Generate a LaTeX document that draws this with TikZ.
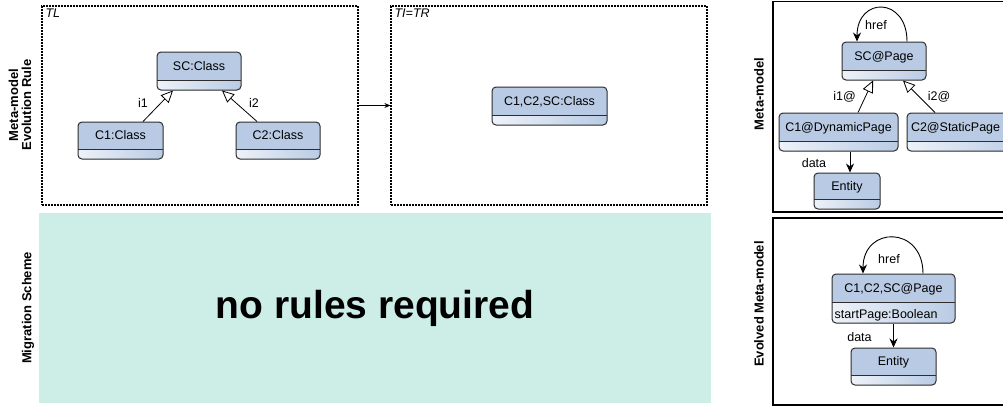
\documentclass[tikz,border=0pt]{standalone}
\usepackage{fontspec}
\setmainfont{Liberation Sans}
\usetikzlibrary{arrows.meta}
\definecolor{clsblue}{RGB}{185,203,228}
\definecolor{clslight}{RGB}{238,242,249}
\definecolor{clsedge}{RGB}{45,45,45}
\definecolor{schemegreen}{RGB}{204,238,231}
\begin{document}
\begin{tikzpicture}[x=1pt,y=-1pt,
  every node/.style={font=\fontsize{12.5}{14}\selectfont},
  cls/.style={draw=clsedge,line width=1pt,rounded corners=4pt,fill=clsblue,inner sep=2pt,text height=8.5pt,text depth=#1,
    path picture={\shade[sharp corners,left color=clslight,right color=clsblue] (path picture bounding box.south west) rectangle ([yshift=#1]path picture bounding box.south east);
      \draw[sharp corners,clsedge,line width=1pt] ([yshift=#1]path picture bounding box.south west) -- ([yshift=#1]path picture bounding box.south east);}},
  cls/.default=10pt,
  inh/.style={-{Triangle[fill=white,length=12pt,width=11pt]},line width=0.8pt},
  assoc/.style={-{Stealth[length=9pt,width=8pt]},line width=0.9pt},
  frame/.style={draw,line width=1.2pt,dash pattern=on 2pt off 1pt,inner sep=0pt},
  panel/.style={draw,line width=1.1pt,inner sep=0pt},
  side/.style={rotate=90,align=center,font=\bfseries\fontsize{13}{13}\selectfont},
  tag/.style={anchor=north west,inner sep=0pt,font=\itshape\fontsize{12.5}{14}\selectfont},
  lbl/.style={inner sep=1pt}]
  \clip (0,0) rectangle (1003,410);
  \fill[white] (0,0) rectangle (1003,410);
  % evolution rule
  \node[frame,minimum width=316pt,minimum height=199pt] (tl) at (200,105.5) {};
  \node[frame,minimum width=316pt,minimum height=199pt] (tr) at (549,105.5) {};
  \node[tag] (tlname) at ([xshift=4pt,yshift=-3pt]tl.north west) {TL};
  \node[tag] (trname) at ([xshift=4pt,yshift=-3pt]tr.north west) {TI=TR};
  \draw[-{Stealth[length=6pt,width=5pt]},line width=0.8pt] (tl) -- (tr);
  \node[cls,minimum width=84pt,minimum height=38pt] (sc) at (199,71) {SC:Class};
  \node[cls,minimum width=85pt,minimum height=37pt] (c1) at (120.5,140.5) {C1:Class};
  \node[cls,minimum width=84pt,minimum height=37pt] (c2) at (278,140.5) {C2:Class};
  \draw[inh] ([xshift=22.5pt]c1.north) -- ([xshift=-26pt]sc.south);
  \draw[inh] ([xshift=-21pt]c2.north) -- ([xshift=23pt]sc.south);
  \node[lbl] (i1) at (143,102.5) {i1};
  \node[lbl] (i2) at (254,102.5) {i2};
  \node[cls,minimum width=115pt,minimum height=38pt] (merged) at (549.5,106) {C1,C2,SC:Class};
  % migration scheme
  \node[fill=schemegreen,minimum width=672pt,minimum height=190pt,font=\bfseries\fontsize{39}{44}\selectfont] (scheme) at (375,308) {no rules required};
  \node[side] (rulelbl) at (20,105) {Meta-model\\Evolution Rule};
  \node[side] (schemelbl) at (28,308) {Migration Scheme};
  % meta-models
  \node[panel,minimum width=240pt,minimum height=210.5pt] (mm) at (893,106.75) {};
  \node[panel,minimum width=240pt,minimum height=187pt] (emm) at (893,311.5) {};
  \node[side] (mmlbl) at (759,94) {Meta-model};
  \node[side] (emmlbl) at (759,304) {Evolved Meta-model};
  \node[cls,minimum width=84pt,minimum height=38pt] (scpage) at (884,61) {SC@Page};
  \node[cls,minimum width=119pt,minimum height=38pt] (dynpage) at (838.5,132) {C1@DynamicPage};
  \node[cls,minimum width=119pt,minimum height=38pt,text width=111pt,align=left] (statpage) at (966.5,132) {C2@StaticPage};
  \node[cls,minimum width=66pt,minimum height=36pt] (entity) at (847,191) {Entity};
  \draw[assoc] ([xshift=23pt]scpage.north) .. controls +(0,-45) and +(0,-45) .. ([xshift=-27pt]scpage.north);
  \node[lbl] (hrefa) at (876,25) {href};
  \draw[inh] ([xshift=19.5pt]dynpage.north) -- ([xshift=-11pt]scpage.south);
  \draw[inh] ([xshift=-31.5pt]statpage.north) -- ([xshift=19pt]scpage.south);
  \node[lbl] (i1at) at (844.5,97) {i1@};
  \node[lbl] (i2at) at (939,97) {i2@};
  \draw[assoc] ([xshift=11.5pt]dynpage.south) -- ([xshift=3pt]entity.north);
  \node[lbl] (dataa) at (814,163) {data};
  \node[cls=21pt,minimum width=123pt,minimum height=49pt] (evpage) at (893.5,298.5) {C1,C2,SC@Page};
  \node[anchor=base west,inner sep=0pt] (pgattr) at ([xshift=3pt,yshift=5.5pt]evpage.south west) {startPage:Boolean};
  \node[cls,minimum width=85pt,minimum height=37pt] (eventity) at (893.5,366.5) {Entity};
  \draw[assoc] ([xshift=29.5pt]evpage.north) .. controls +(0,-48) and +(0,-48) .. ([xshift=-30.5pt]evpage.north);
  \node[lbl] (hrefb) at (889,259) {href};
  \draw[assoc] (evpage) -- (eventity);
  \node[lbl] (datab) at (859.5,337) {data};
\end{tikzpicture}
\end{document}
